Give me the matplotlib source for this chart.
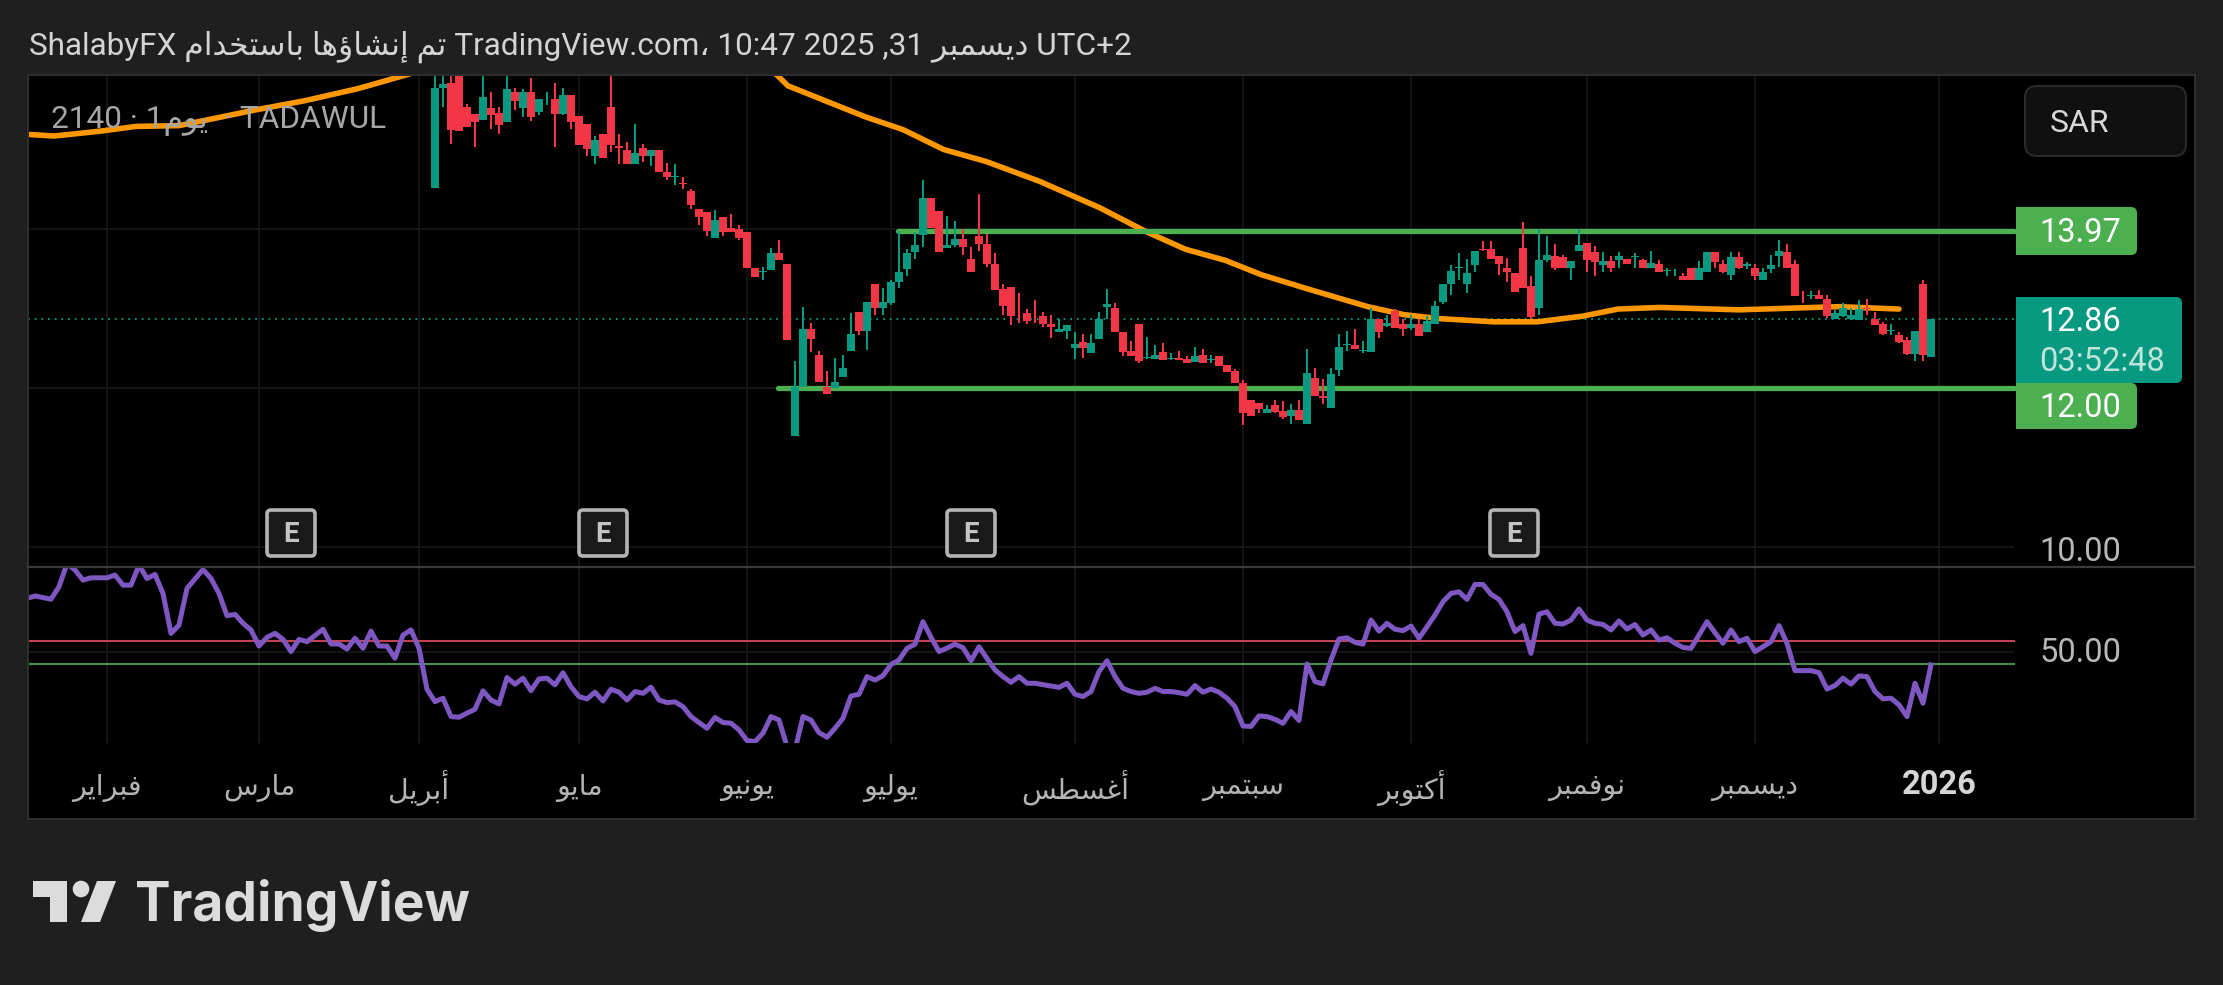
import matplotlib
matplotlib.use("Agg")
import matplotlib.pyplot as plt
from matplotlib.patches import FancyBboxPatch, Rectangle, Polygon, Circle

# ---------- data ----------
bar_open = [
14.51,15.76,15.82,16.20,15.52,15.43,15.36,15.51,15.45,15.34,
15.71,15.51,15.71,15.46,15.62,15.62,15.44,15.67,15.41,15.31,
14.91,15.19,15.52,15.03,14.99,14.81,15.01,14.91,14.99,14.71,
14.65,14.57,14.47,14.25,14.21,13.88,14.15,14.01,14.00,13.96,
13.51,13.46,13.48,13.69,13.56,11.40,12.01,12.74,12.41,12.01,
12.00,12.14,12.47,12.95,12.71,13.31,13.00,13.07,13.33,13.49,
13.70,13.92,14.38,14.22,13.75,13.79,13.87,13.62,13.91,13.81,
13.56,13.24,13.27,13.02,12.94,12.87,12.90,12.80,12.70,12.71,
12.50,12.58,12.44,12.61,13.02,13.00,12.70,12.47,12.80,12.37,
12.36,12.45,12.36,12.37,12.36,12.32,12.41,12.35,12.40,12.29,
12.21,12.06,11.85,11.81,11.68,11.79,11.71,11.65,11.73,11.55,
12.12,11.90,11.75,12.22,12.54,12.54,12.46,12.45,12.86,12.78,
12.97,12.80,12.75,12.80,12.70,12.80,13.08,13.30,13.51,13.30,
13.54,13.74,13.74,13.65,13.51,13.44,13.75,13.28,13.00,13.60,
13.66,13.64,13.50,13.72,13.82,13.71,13.54,13.59,13.61,13.62,
13.64,13.61,13.50,13.56,13.47,13.45,13.41,13.51,13.35,13.45,
13.71,13.56,13.42,13.64,13.53,13.51,13.36,13.49,13.65,13.70,
13.55,13.17,13.15,13.16,13.11,12.87,12.90,12.86,12.85,13.00,
12.86,12.80,12.71,12.67,12.60,12.42,13.30,12.39]
bar_close = [
15.76,15.81,15.24,15.22,15.27,15.34,15.65,15.42,15.30,15.75,
15.60,15.71,15.40,15.62,15.63,15.44,15.67,15.34,15.05,15.00,
15.11,14.89,15.05,15.01,14.81,14.95,14.91,14.99,14.71,14.64,
14.66,14.56,14.30,14.14,13.97,14.11,13.95,13.95,13.88,13.50,
13.39,13.47,13.69,13.60,12.60,12.01,12.74,12.61,12.07,11.93,
12.08,12.25,12.68,12.71,13.08,13.00,13.08,13.33,13.46,13.69,
13.79,14.38,14.01,13.70,13.79,13.87,13.77,13.46,13.80,13.55,
13.23,13.03,12.90,13.01,12.84,12.86,12.80,12.76,12.74,12.79,
12.55,12.50,12.57,12.86,13.05,12.70,12.45,12.40,12.34,12.39,
12.41,12.35,12.37,12.35,12.31,12.40,12.31,12.36,12.27,12.20,
12.06,11.69,11.65,11.74,11.74,11.70,11.63,11.73,11.60,12.19,
11.90,11.87,12.17,12.51,12.55,12.49,12.48,12.86,12.70,12.82,
12.75,12.74,12.80,12.65,12.84,13.03,13.31,13.47,13.52,13.44,
13.72,13.73,13.62,13.56,13.45,13.20,13.26,12.89,13.61,13.67,
13.50,13.51,13.59,13.79,13.60,13.58,13.59,13.50,13.65,13.55,
13.65,13.50,13.57,13.45,13.48,13.46,13.36,13.35,13.51,13.71,
13.58,13.46,13.64,13.51,13.55,13.40,13.46,13.54,13.72,13.50,
13.15,13.16,13.16,13.11,12.90,12.94,13.00,12.91,12.99,12.99,
12.79,12.68,12.73,12.58,12.42,12.72,12.41,12.86]
bar_high = [
16.20,16.10,16.15,16.30,15.56,15.43,15.92,15.71,15.52,16.00,
15.76,15.75,15.89,15.63,15.71,15.83,15.76,15.67,15.41,15.31,
15.16,15.19,16.00,15.19,15.09,15.31,15.06,14.99,14.99,14.82,
14.81,14.65,14.49,14.25,14.21,14.23,14.15,14.18,14.05,13.96,
13.51,13.52,13.75,13.85,13.56,12.34,13.02,12.81,12.46,12.21,
12.38,12.41,12.94,12.95,13.08,13.31,13.26,13.36,13.97,13.74,
13.95,14.61,14.38,14.22,14.16,14.10,14.00,13.77,14.43,13.93,
13.69,13.30,13.27,13.19,12.99,13.10,12.95,12.92,12.86,12.79,
12.70,12.68,12.68,12.95,13.24,13.06,12.70,12.59,12.80,12.64,
12.54,12.56,12.44,12.47,12.40,12.52,12.49,12.41,12.40,12.29,
12.24,12.10,11.85,11.81,11.79,11.85,11.84,11.80,11.85,12.49,
12.25,12.11,12.25,12.68,12.71,12.74,12.59,13.00,12.86,12.91,
12.99,12.86,12.92,12.86,12.90,13.09,13.31,13.54,13.69,13.62,
13.72,13.84,13.84,13.65,13.63,13.44,14.08,13.41,14.00,13.91,
13.81,13.67,13.59,13.99,13.82,13.78,13.71,13.66,13.71,13.62,
13.69,13.62,13.72,13.60,13.51,13.49,13.44,13.51,13.59,13.71,
13.71,13.61,13.71,13.71,13.58,13.55,13.50,13.67,13.86,13.81,
13.61,13.21,13.21,13.23,13.16,12.98,13.07,13.00,13.10,13.11,
12.95,12.83,12.80,12.70,12.64,12.72,13.36,12.86]
bar_low = [
14.51,15.52,15.06,15.22,15.27,15.02,15.36,15.25,15.19,15.34,
15.49,15.40,15.35,15.42,15.55,15.02,15.42,15.25,15.05,14.91,
14.81,14.89,14.96,14.81,14.81,14.81,14.83,14.79,14.71,14.61,
14.55,14.49,14.25,14.05,13.91,13.88,13.91,13.95,13.85,13.50,
13.39,13.36,13.48,13.60,12.60,11.40,12.01,12.45,12.07,11.93,
12.00,12.14,12.47,12.67,12.48,12.92,12.91,13.04,13.25,13.41,
13.62,13.77,14.01,13.70,13.75,13.77,13.67,13.46,13.72,13.52,
13.23,12.91,12.79,12.82,12.80,12.81,12.77,12.63,12.70,12.61,
12.36,12.38,12.44,12.61,12.87,12.70,12.40,12.40,12.31,12.36,
12.36,12.35,12.35,12.35,12.31,12.32,12.31,12.31,12.27,12.20,
12.06,11.53,11.65,11.69,11.68,11.69,11.61,11.55,11.60,11.55,
11.90,11.80,11.75,12.15,12.46,12.49,12.44,12.45,12.63,12.77,
12.75,12.65,12.73,12.65,12.70,12.80,13.05,13.16,13.36,13.19,
13.46,13.72,13.62,13.42,13.33,13.20,13.26,12.87,12.91,13.58,
13.48,13.51,13.36,13.72,13.46,13.41,13.46,13.46,13.51,13.55,
13.51,13.50,13.50,13.45,13.41,13.41,13.36,13.35,13.35,13.45,
13.51,13.44,13.36,13.49,13.49,13.36,13.36,13.44,13.52,13.50,
13.15,13.07,13.11,13.11,12.88,12.86,12.89,12.85,12.85,12.92,
12.79,12.67,12.67,12.57,12.41,12.34,12.34,12.39]

ma_bar = [-50.9,-47.6,-41.9,-37.4,-32,-27.6,-22.3,-16.4,-9.8,-8,-3.5,1.9,20.6,35.6,40,42.8,44.1,
          53.8,58.5,63.6,68.9,75.6,83.1,88.9,93.8,98.8,103.3,109.5,116.6,121.1,125.5,132.3,137.8,
          143.4,147.9,153.1,163,175.4,183]
ma_val = [15.18,15.16,15.22,15.28,15.29,15.38,15.49,15.60,15.75,15.80,15.93,16.09,16.37,16.31,16.12,15.92,15.79,
          15.40,15.24,14.99,14.84,14.59,14.26,13.96,13.74,13.60,13.42,13.23,13.02,12.92,12.87,12.83,12.83,
          12.90,12.99,13.01,12.98,13.02,12.99]

rsi_bar = [-51,-50,-48,-47,-46,-45,-44,-43,-41,-40,-39,-38,-37,-36,-35,-34,-33,-32,-31,-29,-28,-27,-26,-25,-24,-23,-22,-21,-20,-19,
           -18,-17,-16,-14,-13,-12,-11,-10,-9,-8,-7,-6,-5,-4,-3,-2,-1,0,1,2,3,4,5,6,7,8,9,10,11,12,13,14,15,16,17,18,19,20,21,22,23,24,25,
           26,27,28,29,30,31,32,33,34,35,36,37,38,39,40,41,42,43,44,45,46,47,48,49,50,51,52,53,54,55,56,57,58,59,60,61,62,63,64,65,66,67,
           68,69,70,71,72,73,74,75,76,77,78,79,80,81,82,83,84,85,86,87,88,89,90,91,92,93,94,95,96,97,98,99,100,101,102,103,104,105,106,107,
           108,109,110,111,112,113,114,115,116,117,118,119,120,121,122,123,124,125,126,127,128,129,130,131,132,133,134,135,136,137,138,139,
           140,141,142,143,144,145,146,147,148,149,150,151,152,153,154,155,156,157,158,159,160,161,162,163,164,165,166,167,168,169,170,171,
           172,173,174,175,176,177,178,179,180,181,182,183,184,185,186,187]
rsi_val = [73.3,74.4,73.0,78.4,88.5,85.7,81.3,82.3,82.3,83.5,79.1,79.1,87.8,82.0,83.8,75.5,58.1,61.7,77.7,85.9,82.0,75.5,65.8,66.4,62.5,59.6,52.6,56.4,58.1,55.5,
           50.2,55.5,54.5,59.9,53.5,53.5,51.3,56.0,51.6,59.1,52.6,52.6,47.3,57.4,59.6,51.6,33.8,28.4,29.9,21.9,21.6,23.4,25.1,33.1,29.1,27.4,38.9,36.0,38.6,33.2,38.3,38.6,35.7,41.0,34.9,30.6,29.6,32.5,28.7,33.8,32.5,29.1,32.8,
           32.0,34.7,29.1,28.0,28.3,26.2,21.9,19.3,16.8,21.5,19.3,19.0,16.1,11.5,11.0,14.7,21.9,20.4,8.9,7.4,21.9,20.4,14.9,12.9,16.8,21.2,30.9,31.6,39.3,37.8,39.7,44.6,46.5,51.6,53.4,63.2,56.4,50.2,51.7,53.4,51.9,46.2,
           52.3,47.2,42.2,39.3,36.8,39.3,36.4,36.4,35.8,35.2,34.6,36.4,31.6,30.6,32.8,41.5,46.2,39.3,34.2,32.8,32.0,32.5,34.2,32.8,32.8,32.3,31.6,35.4,32.5,33.9,32.5,29.9,26.2,17.8,17.6,22.2,21.9,20.7,19.0,24.1,
           20.2,44.8,37.1,36.1,46.5,55.7,56.2,54.2,53.4,63.9,59.1,62.5,59.9,59.3,61.3,56.0,61.0,66.1,71.9,75.5,76.2,72.9,79.4,79.4,75.1,72.9,67.5,58.9,61.5,49.4,66.5,67.5,
           62.5,62.2,63.9,68.7,63.9,62.5,62.0,59.6,63.5,60.0,62.0,57.4,59.6,55.2,56.2,53.8,52.0,51.6,57.4,63.2,58.4,53.8,59.6,54.5,56.0,50.2,52.3,54.5,61.5,53.8,41.9,41.9,
           41.9,41.0,33.9,35.4,38.6,36.0,39.6,39.3,32.8,29.6,29.9,27.0,21.9,36.4,27.7,44.4]

levels = [13.97, 12.00]
level_start = [57.9, 42.9]
last_price = 12.86
price_grid = [10, 12, 14]
rsi_upper, rsi_lower, rsi_mid = 55, 45, 50
month_bars = [-41,-22,-2,18,39,57,80,101,122,144,165,188]
month_names = ["فبراير","مارس","أبريل","مايو","يونيو","يوليو","أغسطس","سبتمبر","أكتوبر","نوفمبر","ديسمبر"]
year_label = "2026"
earning_px = [291, 603, 971, 1514]

# ---------- Arabic joining helper (matplotlib has no text shaper) ----------
FORMS = {'أ':(0xFE83,0xFE84),'ؤ':(0xFE85,0xFE86),'إ':(0xFE87,0xFE88),'ا':(0xFE8D,0xFE8E),
         'د':(0xFEA9,0xFEAA),'ر':(0xFEAD,0xFEAE),'و':(0xFEED,0xFEEE),
         'ب':0xFE8F,'ت':0xFE95,'خ':0xFEA5,'س':0xFEB1,'ش':0xFEB5,'ط':0xFEC1,'غ':0xFECD,
         'ف':0xFED1,'ك':0xFED9,'ل':0xFEDD,'م':0xFEE1,'ن':0xFEE5,'ه':0xFEE9,'ي':0xFEF1}
def ar(word):
    out = []
    for i, ch in enumerate(word):
        f = FORMS[ch]
        prev = word[i-1] if i else None
        nxt = word[i+1] if i+1 < len(word) else None
        joins_prev = prev is not None and not isinstance(FORMS[prev], tuple)
        if isinstance(f, tuple):
            out.append(chr(f[1] if joins_prev else f[0]))
        else:
            if joins_prev and nxt: out.append(chr(f+3))
            elif joins_prev: out.append(chr(f+1))
            elif nxt: out.append(chr(f+2))
            else: out.append(chr(f))
    return "".join(reversed(out))

FAM = ['Roboto', 'DejaVu Sans']
W, H = 2223, 985
BG = '#1f1f1f'
UP, DOWN = '#089981', '#F23645'
GRID = '#151515'

fig = plt.figure(figsize=(W/100, H/100), dpi=100, facecolor=BG)
def pane(x0, y0, x1, y1):
    a = fig.add_axes([x0/W, 1-y1/H, (x1-x0)/W, (y1-y0)/H], facecolor='black')
    a.set_xticks([]); a.set_yticks([])
    for s in a.spines.values():
        s.set_visible(False)
    return a

X0, X1 = 28, 2195
xlim = ((X0-435)/8, (X1-435)/8)
scale_x = (2014-435)/8       # bar position where the price scale column begins

ax = pane(X0, 75, X1, 567)
ax.set_xlim(*xlim); ax.set_ylim(9.755, 15.925)
rx = pane(X0, 567, X1, 743)
rx.set_xlim(*xlim); rx.set_ylim(10.4, 87)
tx = pane(X0, 743, X1, 819)
tx.set_xlim(*xlim); tx.set_ylim(0, 1)

# grids
for a in (ax, rx):
    a.vlines(month_bars, *a.get_ylim(), color=GRID, lw=1.4, zorder=1)
ax.hlines(price_grid, xlim[0], scale_x, color=GRID, lw=1.4, zorder=1)
rx.hlines([rsi_mid], xlim[0], scale_x, color=GRID, lw=1.4, zorder=1)

# last price line
ax.plot([xlim[0], scale_x], [last_price]*2, color=UP, lw=1.3, ls=(0, (1, 2.7)), zorder=2)

# moving average and levels
ax.plot(ma_bar, ma_val, color='#FF9800', lw=4.0, solid_capstyle='round', solid_joinstyle='round', zorder=3)
for lv, st in zip(levels, level_start):
    ax.plot([st, scale_x], [lv, lv], color='#4CAF50', lw=3.8, solid_capstyle='round', zorder=3)

# candles
n = len(bar_open)
bars = list(range(n))
cols = [UP if c >= o else DOWN for o, c in zip(bar_open, bar_close)]
ax.vlines(bars, bar_low, bar_high, colors=cols, lw=1.45, zorder=4)
ax.bar(bars, [abs(c-o) for o, c in zip(bar_open, bar_close)],
       bottom=[min(o, c) for o, c in zip(bar_open, bar_close)],
       width=0.97, color=cols, linewidth=0, zorder=5)

# RSI pane
rx.plot([xlim[0], scale_x], [rsi_upper]*2, color='#C4414F', lw=1.5, zorder=2)
rx.plot([xlim[0], scale_x], [rsi_lower]*2, color='#4B8F50', lw=1.5, zorder=2)
rx.plot(rsi_bar, rsi_val, color='#7E57C2', lw=3.6, solid_joinstyle='round', zorder=3)

# time axis
for b, name in zip(month_bars, month_names):
    tx.text(b, 0.41, ar(name), color='#b4b4b4', fontsize=20.5, family=FAM, ha='center', va='center')
tx.text(month_bars[-1], 0.45, year_label, color='#d6d6d6', fontsize=23.5, family=FAM, weight='bold', ha='center', va='center')

# overlay in picture pixels for chrome
ov = fig.add_axes([0, 0, 1, 1], facecolor='none')
ov.set_xlim(0, W); ov.set_ylim(H, 0); ov.axis('off')
ov.add_patch(Rectangle((X0, 75), X1-X0, 819-75, fill=False, ec='#2e2e2e', lw=1.5))
ov.plot([X0, X1], [567, 567], color='#3a3a3a', lw=1.6)

title = ("ShalabyFX " + ar("باستخدام") + " " + ar("إنشاؤها") + " " + ar("تم") +
         " TradingView.com\u060c 10:47 2025 ,31 " + ar("ديسمبر") + " UTC+2")
ov.text(29, 47, title, color='#d4d4d4', fontsize=22.65, family=FAM, ha='left', va='center')

legend = "2140 · 1" + ar("يوم") + "  · TADAWUL"
ov.text(51, 121, legend, color='#a6a6a6', fontsize=22.7, family=FAM, ha='left', va='center', zorder=6)

ov.add_patch(FancyBboxPatch((2025, 86), 161, 70, boxstyle="round,pad=0,rounding_size=12",
                            fc='#101010', ec='#2a2a2a', lw=1.5))
ov.text(2050, 123, "SAR", color='#d8d8d8', fontsize=23, family=FAM, ha='left', va='center')

def badge(x0, y0, x1, y1, color):
    ov.add_patch(FancyBboxPatch((x0+6, y0+6), x1-x0-12, y1-y0-12,
                                boxstyle="round,pad=6,rounding_size=6", fc=color, ec='none'))
    ov.add_patch(Rectangle((x0, y0), 12, y1-y0, fc=color, ec='none'))

badge(2016, 383, 2137, 429, '#4CAF50')
badge(2016, 207, 2137, 255, '#4CAF50')
badge(2016, 297, 2182, 383, UP)
FS = 23.5
ov.text(2039, 233, f"{levels[0]:.2f}", color='white', fontsize=FS, family=FAM, va='center')
ov.text(2039, 408, f"{levels[1]:.2f}", color='white', fontsize=FS, family=FAM, va='center')
ov.text(2039, 322, f"{last_price:.2f}", color='white', fontsize=FS, family=FAM, va='center')
ov.text(2039, 362, "03:52:48", color='#bfe4dc', fontsize=FS, family=FAM, va='center')
ov.text(2039, 552, "10.00", color='#b8b8b8', fontsize=FS, family=FAM, va='center')
ov.text(2039, 653, "50.00", color='#b8b8b8', fontsize=FS, family=FAM, va='center')

# earnings markers
for ex in earning_px:
    ov.add_patch(FancyBboxPatch((ex-22, 512), 44, 42, boxstyle="round,pad=2,rounding_size=4",
                                fc='#1a1a1a', ec='#b4b4b4', lw=2.6))
    ov.text(ex, 534, "E", color='#c4c4c4', fontsize=20, family=FAM, weight='bold', ha='center', va='center')

# logo
LOGO = '#dcdcdc'
ov.add_patch(Polygon([(33, 881), (67, 881), (67, 922), (50, 922), (50, 897), (33, 897)], fc=LOGO, ec='none'))
ov.add_patch(Circle((81, 889), 8.3, fc=LOGO, ec='none'))
ov.add_patch(Polygon([(97, 881), (116, 881), (100, 922), (81, 922)], fc=LOGO, ec='none'))
ov.text(135, 905, "TradingView", color=LOGO, fontsize=38.4, family=['Inter', 'DejaVu Sans'], weight='bold', ha='left', va='center')

fig.savefig("out.png", dpi=100, facecolor=BG)
